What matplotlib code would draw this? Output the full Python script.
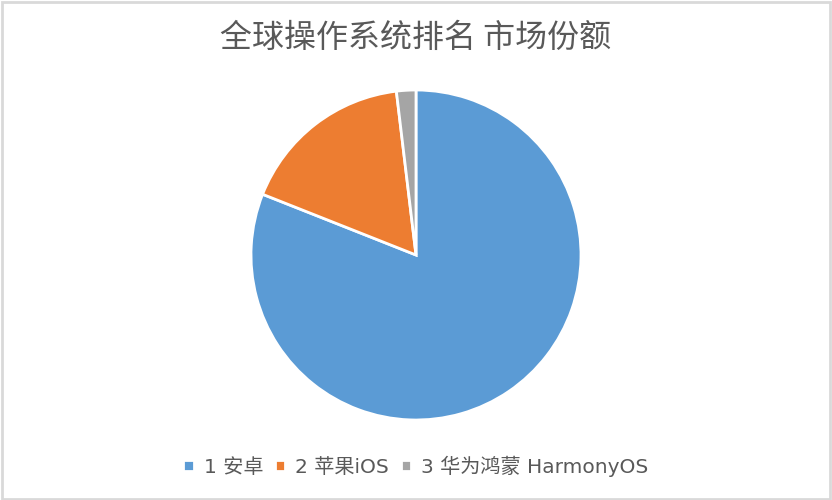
import matplotlib
matplotlib.use("Agg")
from matplotlib import pyplot as plt
from matplotlib.patches import Rectangle

labels = ["1 安卓", "2 苹果iOS", "3 华为鸿蒙 HarmonyOS"]
shares = [81.0, 17.1, 1.9]
colors = ["#5b9bd5", "#ed7d31", "#a5a5a5"]
title = "全球操作系统排名 市场份额"

plt.rcParams['font.family'] = ['DejaVu Sans', 'Noto Sans CJK SC']

fig = plt.figure(figsize=(8.32, 5.0), dpi=100)
fig.patch.set_facecolor("white")

# outer frame
fig.patches.append(Rectangle((0.002, 0.003), 0.995, 0.994,
                             transform=fig.transFigure, fill=False,
                             edgecolor="#d9d9d9", linewidth=2))

r = 165 / 100.0
cx, cy = 416 / 100.0, (500 - 255) / 100.0
ax = fig.add_axes([(cx - r) / 8.32, (cy - r) / 5.0, 2 * r / 8.32, 2 * r / 5.0])
wedges, _ = ax.pie(shares, colors=colors, startangle=90, counterclock=False,
                   radius=1.0, frame=False,
                   wedgeprops=dict(edgecolor="white", linewidth=2))
ax.set_xlim(-1, 1)
ax.set_ylim(-1, 1)
ax.set_aspect("equal")
ax.axis("off")

fig.text(0.499, 1 - 38 / 500, title, ha="center", va="center", fontsize=23,
         color="#595959", family=['Noto Sans CJK SC', 'DejaVu Sans'])

fig.legend(wedges, labels, loc="center", bbox_to_anchor=(0.5, 1 - 466 / 500),
           ncol=3, frameon=False, fontsize=14.5, handlelength=0.5,
           handleheight=0.5, handletextpad=0.5, columnspacing=0.6,
           labelcolor="#595959")

fig.savefig("out.png", dpi=100)
